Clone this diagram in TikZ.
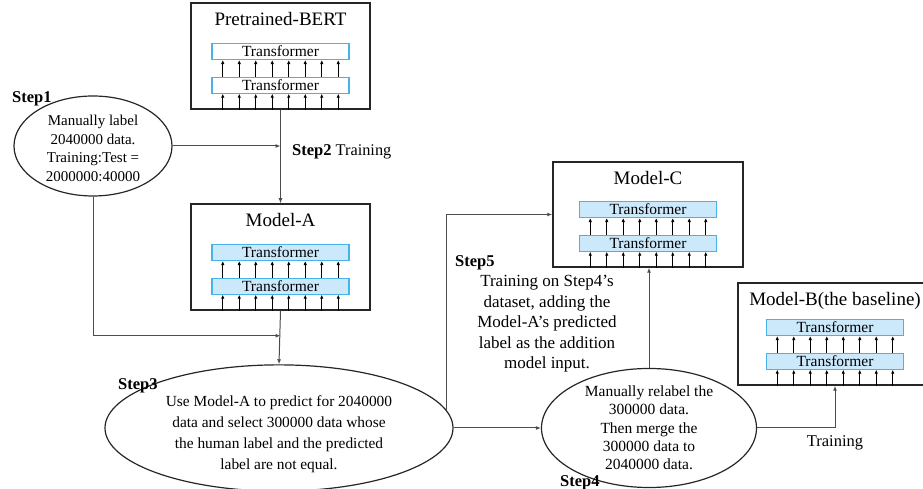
\documentclass[tikz,border=0pt]{standalone}
\usepackage{fontspec}
\setmainfont{Liberation Serif}
\usetikzlibrary{arrows.meta, calc, positioning, shapes.geometric}

\definecolor{tfborder}{RGB}{70,180,235}
\definecolor{tffill}{RGB}{204,233,252}

\tikzset{
  outerbox/.style={draw=black!85, line width=1.5pt, inner sep=0pt},
  titlefont/.style={inner sep=0pt, font=\fontsize{19}{19}\selectfont},
  tfbox/.style={draw=tfborder, line width=1.2pt, minimum width=137pt,
    minimum height=16pt, inner sep=0pt, font=\fontsize{15.5}{15.5}\selectfont},
  tfplain/.style={tfbox, fill=white},
  tffilled/.style={tfbox, fill=tffill},
  tfarrow/.style={line width=0.8pt, -{Latex[length=4pt,width=3.5pt]}},
  conn/.style={draw=black!70, line width=1pt, -{Latex[length=5pt,width=4pt]}},
  stepellipse/.style={ellipse, draw=black!85, line width=1.2pt, inner sep=0pt, align=center},
  steplabel/.style={inner sep=0pt, anchor=base west, font=\fontsize{16.5}{16.5}\selectfont\bfseries}
}

% Outer box with title and two stacked transformer layers
\newcommand{\modelblock}[6]{%
  \node[outerbox, minimum width=#3, minimum height=#4] (#1) at #2 {};
  \node[titlefont, anchor=base] (#1title) at ([yshift=-23pt]#1.north) {#5};
  \node[#6, above=16pt of #1.south] (#1low) {Transformer};
  \node[#6, above=16.5pt of #1low] (#1up) {Transformer};
  \foreach \d in {-57.75,-41.25,...,57.75} {
    \draw[tfarrow] ([xshift=\d pt]#1low.south |- #1.south) -- ([xshift=\d pt]#1low.south);
    \draw[tfarrow] ([xshift=\d pt]#1low.north) -- ([xshift=\d pt]#1up.south);
  }
}

\begin{document}
\begin{tikzpicture}[x=1pt, y=1pt]
\useasboundingbox (0,0) rectangle (923,489);
% Model boxes
\modelblock{bert}{(280.5,433)}{179pt}{106pt}{Pretrained-BERT}{tfplain}
\modelblock{modela}{(280.5,232)}{179pt}{106pt}{Model-A}{tffilled}
\modelblock{modelc}{(648,274.5)}{190pt}{105pt}{Model-C}{tffilled}
\modelblock{modelb}{(835,155)}{194pt}{102pt}{Model-B(the baseline)}{tffilled}
% Step ellipses
\node[stepellipse, minimum width=158pt, minimum height=98pt,
  font=\fontsize{15}{18.5}\selectfont] (step1) at (93,343)
  {\rule{0pt}{15pt}Manually label\\2040000 data.\\Training:Test =\\2000000:40000};
\node[stepellipse, minimum width=348pt, minimum height=100pt,
  font=\fontsize{15.4}{21}\selectfont] (step3) at (279,61)
  {\rule{0pt}{23pt}Use Model-A to predict for 2040000\\data and select 300000 data whose\\the human label and the predicted\\label are not equal.};
\node[stepellipse, minimum width=215pt, minimum height=105pt,
  font=\fontsize{15.5}{18.3}\selectfont] (step4) at (649,61)
  {Manually relabel the\\300000 data.\\Then merge the\\300000 data to\\2040000 data.};
\node[align=center, inner sep=0pt, font=\fontsize{17}{20.5}\selectfont] (step5text) at (547,165)
  {Training on Step4's\\dataset, adding the\\Model-A's predicted\\label as the addition\\model input.};
% Step labels
\node[steplabel] (lbl1) at (12,386) {Step1};
\node[steplabel] (lbl2) at (292,333) {Step2 \mdseries\fontsize{16.3}{16.3}\selectfont Training};
\node[steplabel] (lbl3) at (118,99) {Step3};
\node[steplabel] (lbl4) at (560,2) {Step4};
\node[steplabel] (lbl5) at (455,222) {Step5};
% Connectors
\coordinate (merge) at ($(modela.south)+(0,-25)$);
\draw[conn] (bert.south) -- (modela.north);
\draw[conn] (step1.east) -- (step1.east -| bert.south);
\draw[conn] (step1.south) |- (merge);
\draw[conn] (modela.south) -- (step3.north);
\draw[conn] (step3.east) -- (step4.west);
\draw[conn] (step3.6) |- (modelc.west);
\draw[conn] (step4.north) -- (step4.north |- modelc.south);
\draw[conn] (step4.east) -| node[below=7pt, inner sep=0pt, font=\fontsize{16.5}{16.5}\selectfont] (trainb) {Training} (modelb.south);
\end{tikzpicture}
\end{document}
